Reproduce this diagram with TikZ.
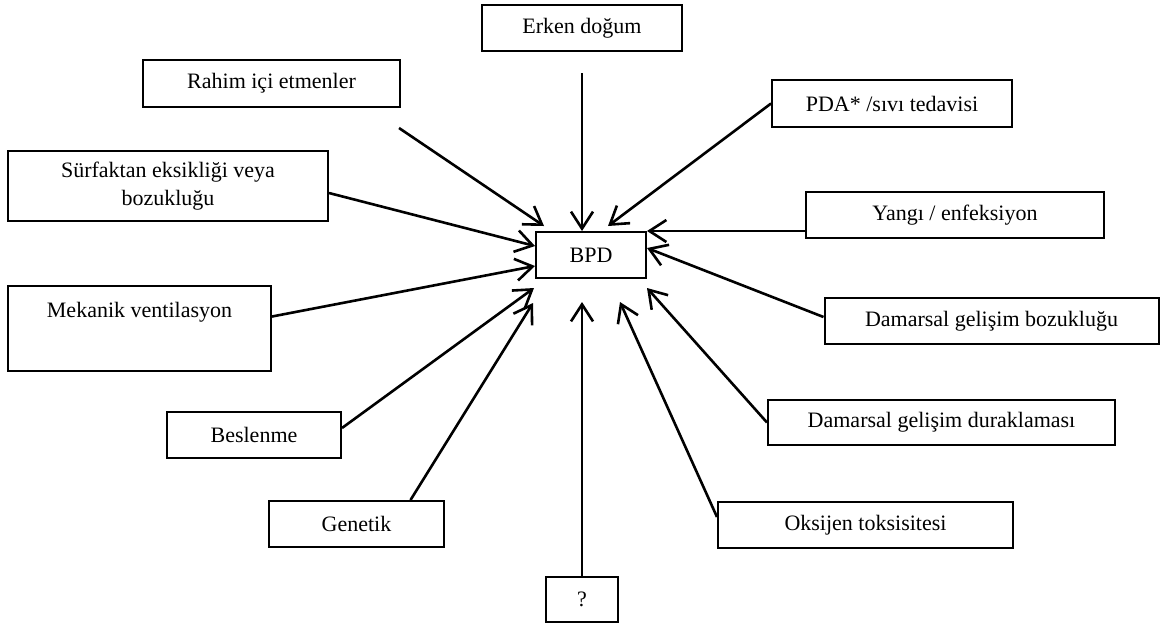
\documentclass[tikz,border=0pt]{standalone}
\usepackage{fontspec}
\setmainfont{Liberation Serif}
\usetikzlibrary{arrows.meta}

\begin{document}
\begin{tikzpicture}[x=0.5pt, y=-0.5pt, font=\fontsize{11}{14}\selectfont,
    factor/.style={draw, line width=1pt, inner sep=0pt, align=center},
    cause/.style={-{Straight Barb[length=8.5pt,width=11pt]}, line width=1.3pt},
    ]
    \useasboundingbox (0,0) rectangle (1166,623);
    % central node
    \node[factor, minimum width=55pt, minimum height=23pt] (bpd) at (591,255) {BPD};
    % factors, left side
    \node[factor, minimum width=128.5pt, minimum height=23.5pt] (rahim) at (271.5,83.5) {Rahim içi etmenler};
    \node[factor, minimum width=160pt, minimum height=35pt] (surf) at (168,186) {Sürfaktan eksikliği veya\\bozukluğu};
    \node[factor, minimum width=131.5pt, minimum height=42.5pt] (mek) at (139.5,328.5) {Mekanik ventilasyon\\\strut};
    \node[factor, minimum width=87pt, minimum height=23pt] (besl) at (254,435) {Beslenme};
    \node[factor, minimum width=87.5pt, minimum height=23pt] (gen) at (356.5,524) {Genetik};
    % top and bottom
    \node[factor, minimum width=100pt, minimum height=23pt] (erken) at (582,28) {Erken doğum};
    \node[factor, minimum width=36pt, minimum height=22.5pt] (q) at (582,599.5) {?};
    % factors, right side
    \node[factor, minimum width=120pt, minimum height=23.5pt] (pda) at (892,103.5) {PDA* /sıvı tedavisi};
    \node[factor, minimum width=149pt, minimum height=23pt] (yangi) at (955,215) {Yangı / enfeksiyon};
    \node[factor, minimum width=167pt, minimum height=23pt] (dboz) at (991.5,321) {Damarsal gelişim bozukluğu};
    \node[factor, minimum width=173.5pt, minimum height=22.5pt] (ddur) at (941.5,422.5) {Damarsal gelişim duraklaması};
    \node[factor, minimum width=147.5pt, minimum height=23pt] (oks) at (865.5,525) {Oksijen toksisitesi};

    % free ends of the arrows
    \coordinate (erken-start) at (582,73);
    \coordinate (rahim-start) at (399,128);
    \coordinate (rahim-tip) at (544,226);
    \coordinate (pda-tip) at (608,226);
    \coordinate (besl-tip) at (534,288);
    \coordinate (gen-tip) at (533,303);
    \coordinate (q-tip) at (582,302);
    \coordinate (oks-tip) at (620,302);
    \coordinate (ddur-tip) at (647,288);

    % arrows into BPD
    \draw[cause] (erken-start) -- (bpd.north -| erken-start);
    \draw[cause] (rahim-start) -- (rahim-tip);
    \draw[cause] (pda.west) -- (pda-tip);
    \draw[cause] ([yshift=-3.5pt]surf.east) -- ([yshift=4.5pt]bpd.west);
    \draw[cause] ([yshift=-8pt]yangi.west) -- (yangi.west |- bpd.north) -- (bpd.north east);
    \draw[cause] ([yshift=6pt]mek.east) -- ([yshift=-5.5pt]bpd.west);
    \draw[cause] ([yshift=2pt]dboz.west) -- ([yshift=3.5pt]bpd.east);
    \draw[cause] ([yshift=3.5pt]besl.east) -- (besl-tip);
    \draw[cause] (ddur.west) -- (ddur-tip);
    \draw[cause] ([xshift=27pt]gen.north) -- (gen-tip);
    \draw[cause] ([yshift=4pt]oks.west) -- (oks-tip);
    \draw[cause] (q.north) -- (q-tip);
\end{tikzpicture}
\end{document}
